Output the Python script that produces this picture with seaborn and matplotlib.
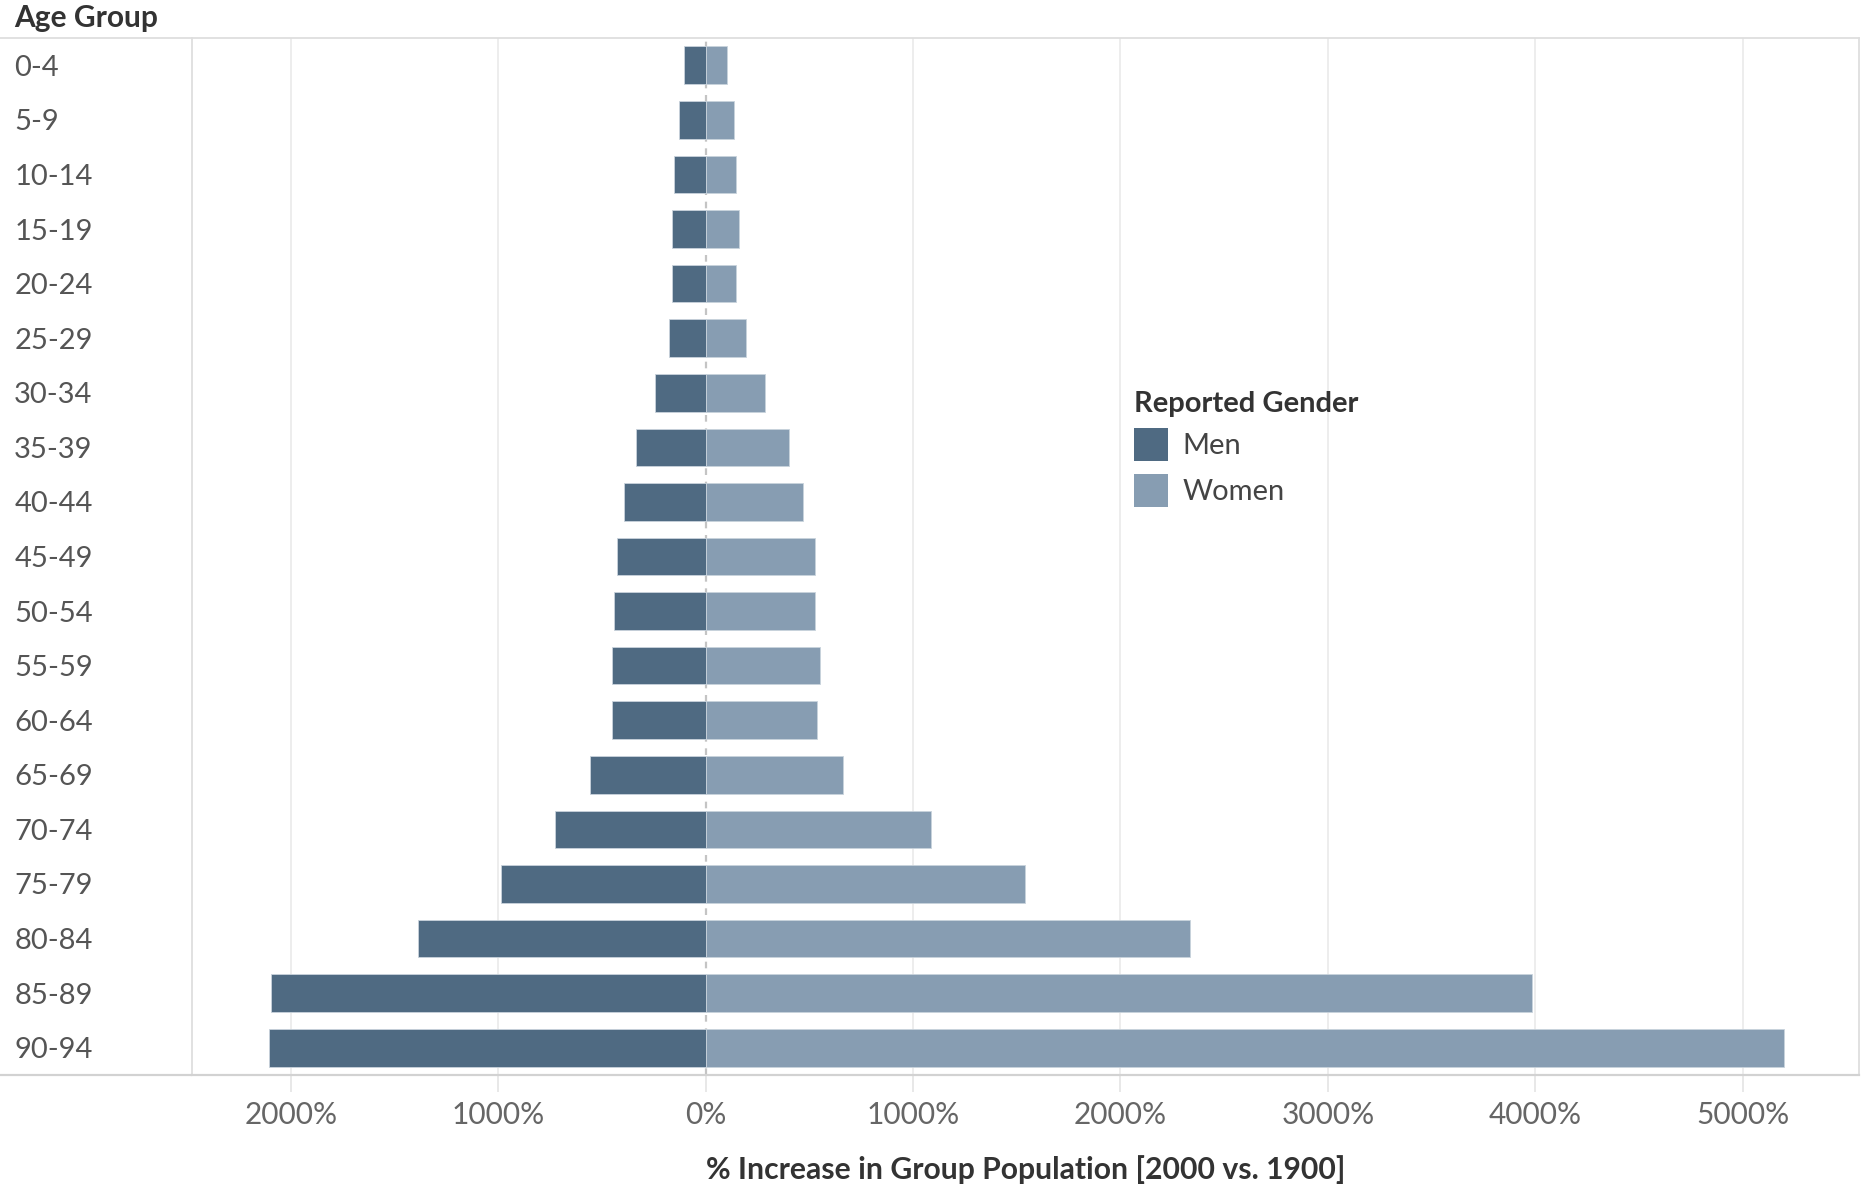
import matplotlib
matplotlib.use("Agg")
import matplotlib.pyplot as plt
import seaborn as sns
import pandas as pd
from matplotlib.patches import Patch
from matplotlib.lines import Line2D

age_groups = ["0-4", "5-9", "10-14", "15-19", "20-24", "25-29", "30-34", "35-39",
              "40-44", "45-49", "50-54", "55-59", "60-64", "65-69", "70-74", "75-79",
              "80-84", "85-89", "90-94"]
men_pct = [105, 130, 154, 164, 164, 175, 246, 338, 396, 430, 442, 453, 453, 557,
           729, 987, 1388, 2094, 2106]
women_pct = [103, 135, 148, 159, 148, 196, 288, 402, 470, 528, 528, 551, 539, 660,
             1084, 1538, 2335, 3982, 5198]
genders = ["Men", "Women"]
x_ticks = [-2000, -1000, 0, 1000, 2000, 3000, 4000, 5000]
x_tick_labels = ["2000%", "1000%", "0%", "1000%", "2000%", "3000%", "4000%", "5000%"]

sns.set_theme(style="white")
plt.rcParams['font.family'] = ['Lato', 'DejaVu Sans']

df = pd.DataFrame({
    "Age Group": age_groups * 2,
    "Gender": ["Men"] * len(age_groups) + ["Women"] * len(age_groups),
    "Value": [-v for v in men_pct] + women_pct,
})
palette = {"Men": "#4f6a82", "Women": "#879db2"}

W, H = 1866, 1189
fig = plt.figure(figsize=(W / 100, H / 100), dpi=100)
L, R, T, B = 192, 1859, 38, 1075
ax = fig.add_axes([L / W, 1 - B / H, (R - L) / W, (B - T) / H])

sns.barplot(data=df, y="Age Group", x="Value", hue="Gender", order=age_groups,
            hue_order=genders, palette=palette, dodge=False, width=0.69,
            orient="h", ax=ax, legend=False, linewidth=0.6, edgecolor="#c9d3dc",
            saturation=1, zorder=2)

ax.set_xlim(-2477, 5561)
ax.set_ylim(len(age_groups) - 0.5, -0.5)

for t in x_ticks:
    if t == 0:
        ax.axvline(0, color="#c4c4c4", lw=1.6, ls=(0, (3, 3)), zorder=1)
    else:
        ax.axvline(t, color="#ececec", lw=1.3, zorder=0)

ax.set_xticks(x_ticks)
ax.set_xticklabels(x_tick_labels)
ax.tick_params(axis="x", length=12, width=1.3, color="#e6e6e6", pad=7,
               labelsize=21.5, labelcolor="#666666", bottom=True)
ax.tick_params(axis="y", length=0, pad=128, labelsize=21, labelcolor="#555555")
for lab in ax.get_yticklabels():
    lab.set_horizontalalignment("left")

ax.set_xlabel("")
ax.set_ylabel("")

for s in ["left", "top", "right"]:
    ax.spines[s].set_color("#dedede")
    ax.spines[s].set_linewidth(1.3)
ax.spines["bottom"].set_color("#d2d2d2")
ax.spines["bottom"].set_linewidth(1.6)

fig.add_artist(Line2D([0, L / W], [1 - T / H, 1 - T / H], transform=fig.transFigure,
                      color="#dedede", lw=1.3))
fig.add_artist(Line2D([0, L / W], [1 - B / H, 1 - B / H], transform=fig.transFigure,
                      color="#d2d2d2", lw=1.6))

fig.text(14 / W, 1 - 18 / H, "Age Group", fontsize=21.5, fontweight="bold",
         color="#333333", ha="left", va="center")
fig.text((L + R) / 2 / W, 1 - 1170 / H, "% Increase in Group Population [2000 vs. 1900]",
         fontsize=21.7, fontweight="bold", color="#333333", ha="center", va="center")

handles = [Patch(facecolor=palette[g], edgecolor="none", label=g) for g in genders]
leg = ax.legend(handles=handles, title="Reported Gender", loc="upper left",
                bbox_to_anchor=(1134 / W, 1 - 391 / H), bbox_transform=fig.transFigure,
                frameon=False, fontsize=21, title_fontproperties={"weight": "bold", "size": 21},
                handlelength=1.15, handleheight=1.35, handletextpad=0.5, labelspacing=0.45,
                borderpad=0, borderaxespad=0)
leg._legend_box.align = "left"
leg._legend_box.sep = 8
leg.get_title().set_color("#333333")
for t in leg.get_texts():
    t.set_color("#444444")

fig.savefig("out.png", dpi=100)
